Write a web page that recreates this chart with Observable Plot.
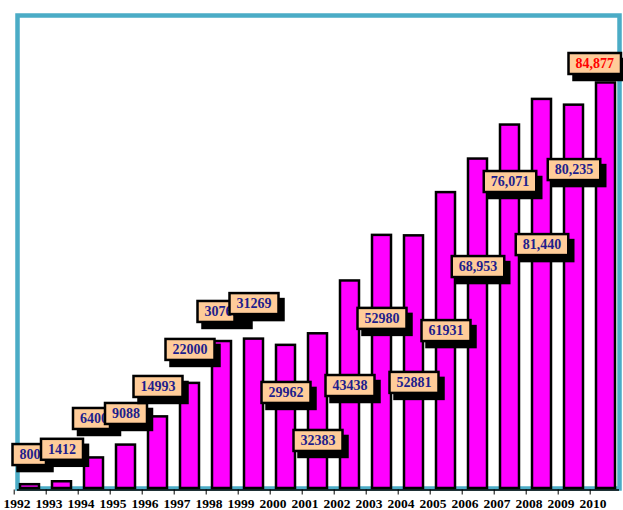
<!DOCTYPE html>
<html><head><meta charset="utf-8">
<script src="https://cdn.jsdelivr.net/npm/d3@7"></script>
<script src="https://cdn.jsdelivr.net/npm/@observablehq/plot@0.6"></script>
<style>body{margin:0;background:#fff}</style>
</head><body><div id="chart"></div>
<script>
const years = ["1992","1993","1994","1995","1996","1997","1998","1999","2000","2001","2002","2003","2004","2005","2006","2007","2008","2009","2010"];
const values = [800,1412,6400,9088,14993,22000,30763,31269,29962,32383,43438,52980,52881,61931,68953,76071,81440,80235,84877];
const labelTexts = ["800","1412","6400","9088","14993","22000","30763","31269","29962","32383","43438","52980","52881","61931","68,953","76,071","81,440","80,235","84,877"];
// vertical anchor of each label, in data units
const labelAnchors = [7100,8200,14650,15700,21350,29100,37050,38700,20100,10050,21550,35600,22200,33050,46450,64250,51050,66750,88950];
const highlightYear = "2010";

const data = years.map((y,i)=>({year:y, value:values[i], label:labelTexts[i], anchor:labelAnchors[i]}));

const chart = Plot.plot({
  width: 623, height: 510,
  marginLeft: 17, marginRight: 4, marginTop: 15, marginBottom: 22,
  x: {domain: years, paddingInner: 0.4, paddingOuter: 0, label: null},
  y: {domain: [0, 99000], axis: null},
  style: {background: "#fff", overflow: "visible"},
  marks: [
    Plot.frame({stroke: "#4BACC6", strokeWidth: 4.5}),
    Plot.barY(data, {x: "year", y: "value", fill: "#FF00FF", stroke: "#000", strokeWidth: 2.5}),
    Plot.ruleY([0], {stroke: "#000", strokeWidth: 1.5, dy: 1.5}),
    Plot.axisX({tickSize: 5, tickFormat: () => "", dx: -15.8, dy: 1.5, stroke: "#000"}),
    Plot.axisX({tickSize: 0, tickPadding: 10, dx: -13, fontFamily: "Liberation Serif", fontWeight: "bold", fontSize: 13.5, fill: "#000"}),
    Plot.text(data, {x: "year", y: "anchor", text: "label", className: "vlabel",
      fontFamily: "Liberation Serif", fontWeight: "bold", fontSize: 14,
      fill: d => d.year === highlightYear ? "#FF0000" : "#1E1E8C"})
  ]
});
document.getElementById("chart").appendChild(chart);

// boxes with drop shadows behind each value label
const W = 623;
const ns = "http://www.w3.org/2000/svg";
chart.querySelectorAll(".vlabel text").forEach(t => {
  const padX = 7, padY = 3;
  // keep the box inside the picture
  let b = t.getBBox();
  const ctm = t.getCTM();
  const offX = ctm ? ctm.e : 0;
  const right = offX + b.x + b.width + padX + 1;
  if (right > W - 1) {
    const shift = right - (W - 1);
    t.setAttribute("x", (+t.getAttribute("x") || 0) - shift);
    b = t.getBBox();
  }
  const tr = t.getAttribute("transform");
  const mk = (dx, dy, fill) => {
    const r = document.createElementNS(ns, "rect");
    r.setAttribute("x", b.x - padX + dx);
    r.setAttribute("y", b.y - padY + dy);
    r.setAttribute("width", b.width + 2*padX);
    r.setAttribute("height", b.height + 2*padY);
    r.setAttribute("fill", fill);
    r.setAttribute("stroke", "#000");
    r.setAttribute("stroke-width", 2.5);
    if (tr) r.setAttribute("transform", tr);
    return r;
  };
  t.parentNode.insertBefore(mk(5, 6, "#000"), t);
  t.parentNode.insertBefore(mk(0, 0, "#FFCC99"), t);
});
</script>
</body></html>
